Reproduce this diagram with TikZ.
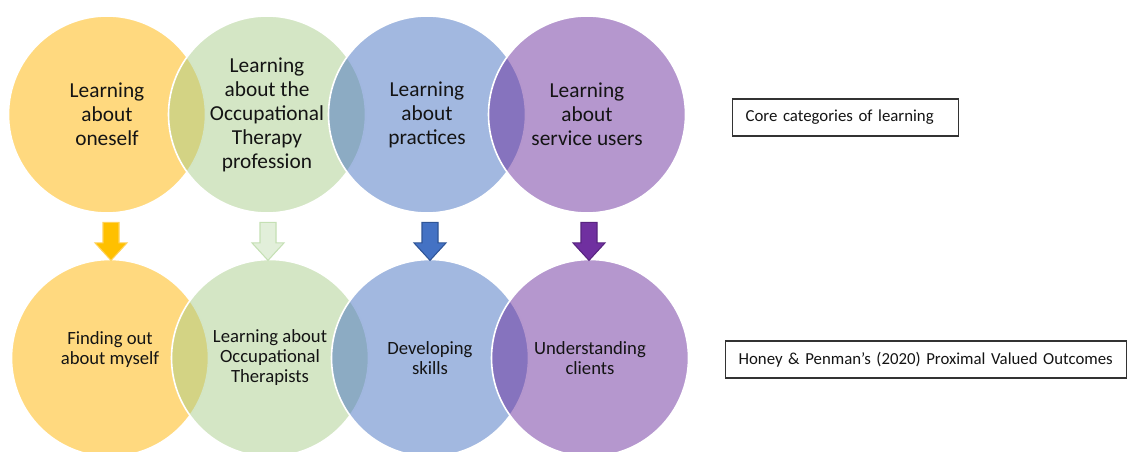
\documentclass[tikz,border=0pt]{standalone}
\usepackage{fontspec}
\setmainfont{Carlito}
\usetikzlibrary{shapes.arrows}

\definecolor{vennY}{RGB}{255,180,0}
\definecolor{vennG}{RGB}{169,205,139}
\definecolor{vennB}{RGB}{69,113,193}
\definecolor{vennP}{RGB}{107,47,157}

\begin{document}
\begin{tikzpicture}[
    x=0.75pt, y=-0.75pt,
    venn/.style={circle, minimum size=147.75pt, inner sep=0pt,
                 draw=white, line width=1.2pt, fill opacity=0.5,
                 text opacity=1, align=center, text=black!92},
    cat/.style={venn, font=\fontsize{16}{18}\selectfont},
    pvo/.style={venn, font=\fontsize{14}{15}\selectfont},
    blk/.style={single arrow, shape border rotate=270, inner sep=5.6pt,
                minimum height=28.5pt,
                single arrow head extend=6pt, single arrow head indent=0pt,
                single arrow tip angle=85, line width=0.8pt},
    key/.style={rectangle, draw=black!80, line width=0.9pt, anchor=west,
                align=left, inner xsep=9.75pt, minimum height=27.75pt,
                font=\fontsize{12.6}{14}\selectfont, text=black!92},
]
    \useasboundingbox (0,0) rectangle (1127,452);
    \clip (0,0) rectangle (1127,452);

    % column centers
    \def\colA{107}
    \def\colB{267}
    \def\colC{427}
    \def\colD{587}
    \def\shift{3}
    % row y-coordinates
    \def\rowT{114.5}
    \def\rowM{237}
    \def\rowB{358}

    % Row 1: core categories
    \node[cat, fill=vennY] (t1) at (\colA, \rowT)
        {Learning\\about\\oneself};
    \node[cat, fill=vennG] (t2) at (\colB, \rowT)
        {Learning\\about the\\Occupational\\Therapy\\profession};
    \node[cat, fill=vennB] (t3) at (\colC, \rowT)
        {Learning\\about\\practices};
    \node[cat, fill=vennP] (t4) at (\colD, \rowT)
        {Learning\\about\\service users};

    % Row 2: proximal valued outcomes
    \node[pvo, fill=vennY] (b1) at (\colA+\shift, \rowB)
        {Finding out\\about myself\\\mbox{}};
    \node[pvo, fill=vennG] (b2) at (\colB+\shift, \rowB)
        {Learning about\\Occupational\\Therapists};
    \node[pvo, fill=vennB] (b3) at (\colC+\shift, \rowB)
        {Developing\\skills};
    \node[pvo, fill=vennP] (b4) at (\colD+\shift, \rowB)
        {Understanding\\clients};

    % block arrows
    \node[blk, fill={rgb,255:red,255;green,192;blue,0},
          draw={rgb,255:red,255;green,210;blue,90}] (a1) at (111, \rowM) {};
    \node[blk, fill={rgb,255:red,226;green,239;blue,218},
          draw={rgb,255:red,197;green,224;blue,180}] (a2) at (268, \rowM) {};
    \node[blk, fill={rgb,255:red,68;green,114;blue,196},
          draw={rgb,255:red,47;green,85;blue,151}] (a3) at (430, \rowM) {};
    \node[blk, fill={rgb,255:red,112;green,48;blue,160},
          draw={rgb,255:red,88;green,36;blue,128}] (a4) at (589, \rowM) {};

    % Keys
    \node[key, minimum width=169.5pt, text width=150pt] (k1) at (732, 117.5)
        {Core categories of learning};
    \node[key, minimum width=300.75pt, text width=281.25pt] (k2) at (725, 359.5)
        {Honey \& Penman’s (2020) Proximal Valued Outcomes};
\end{tikzpicture}
\end{document}
